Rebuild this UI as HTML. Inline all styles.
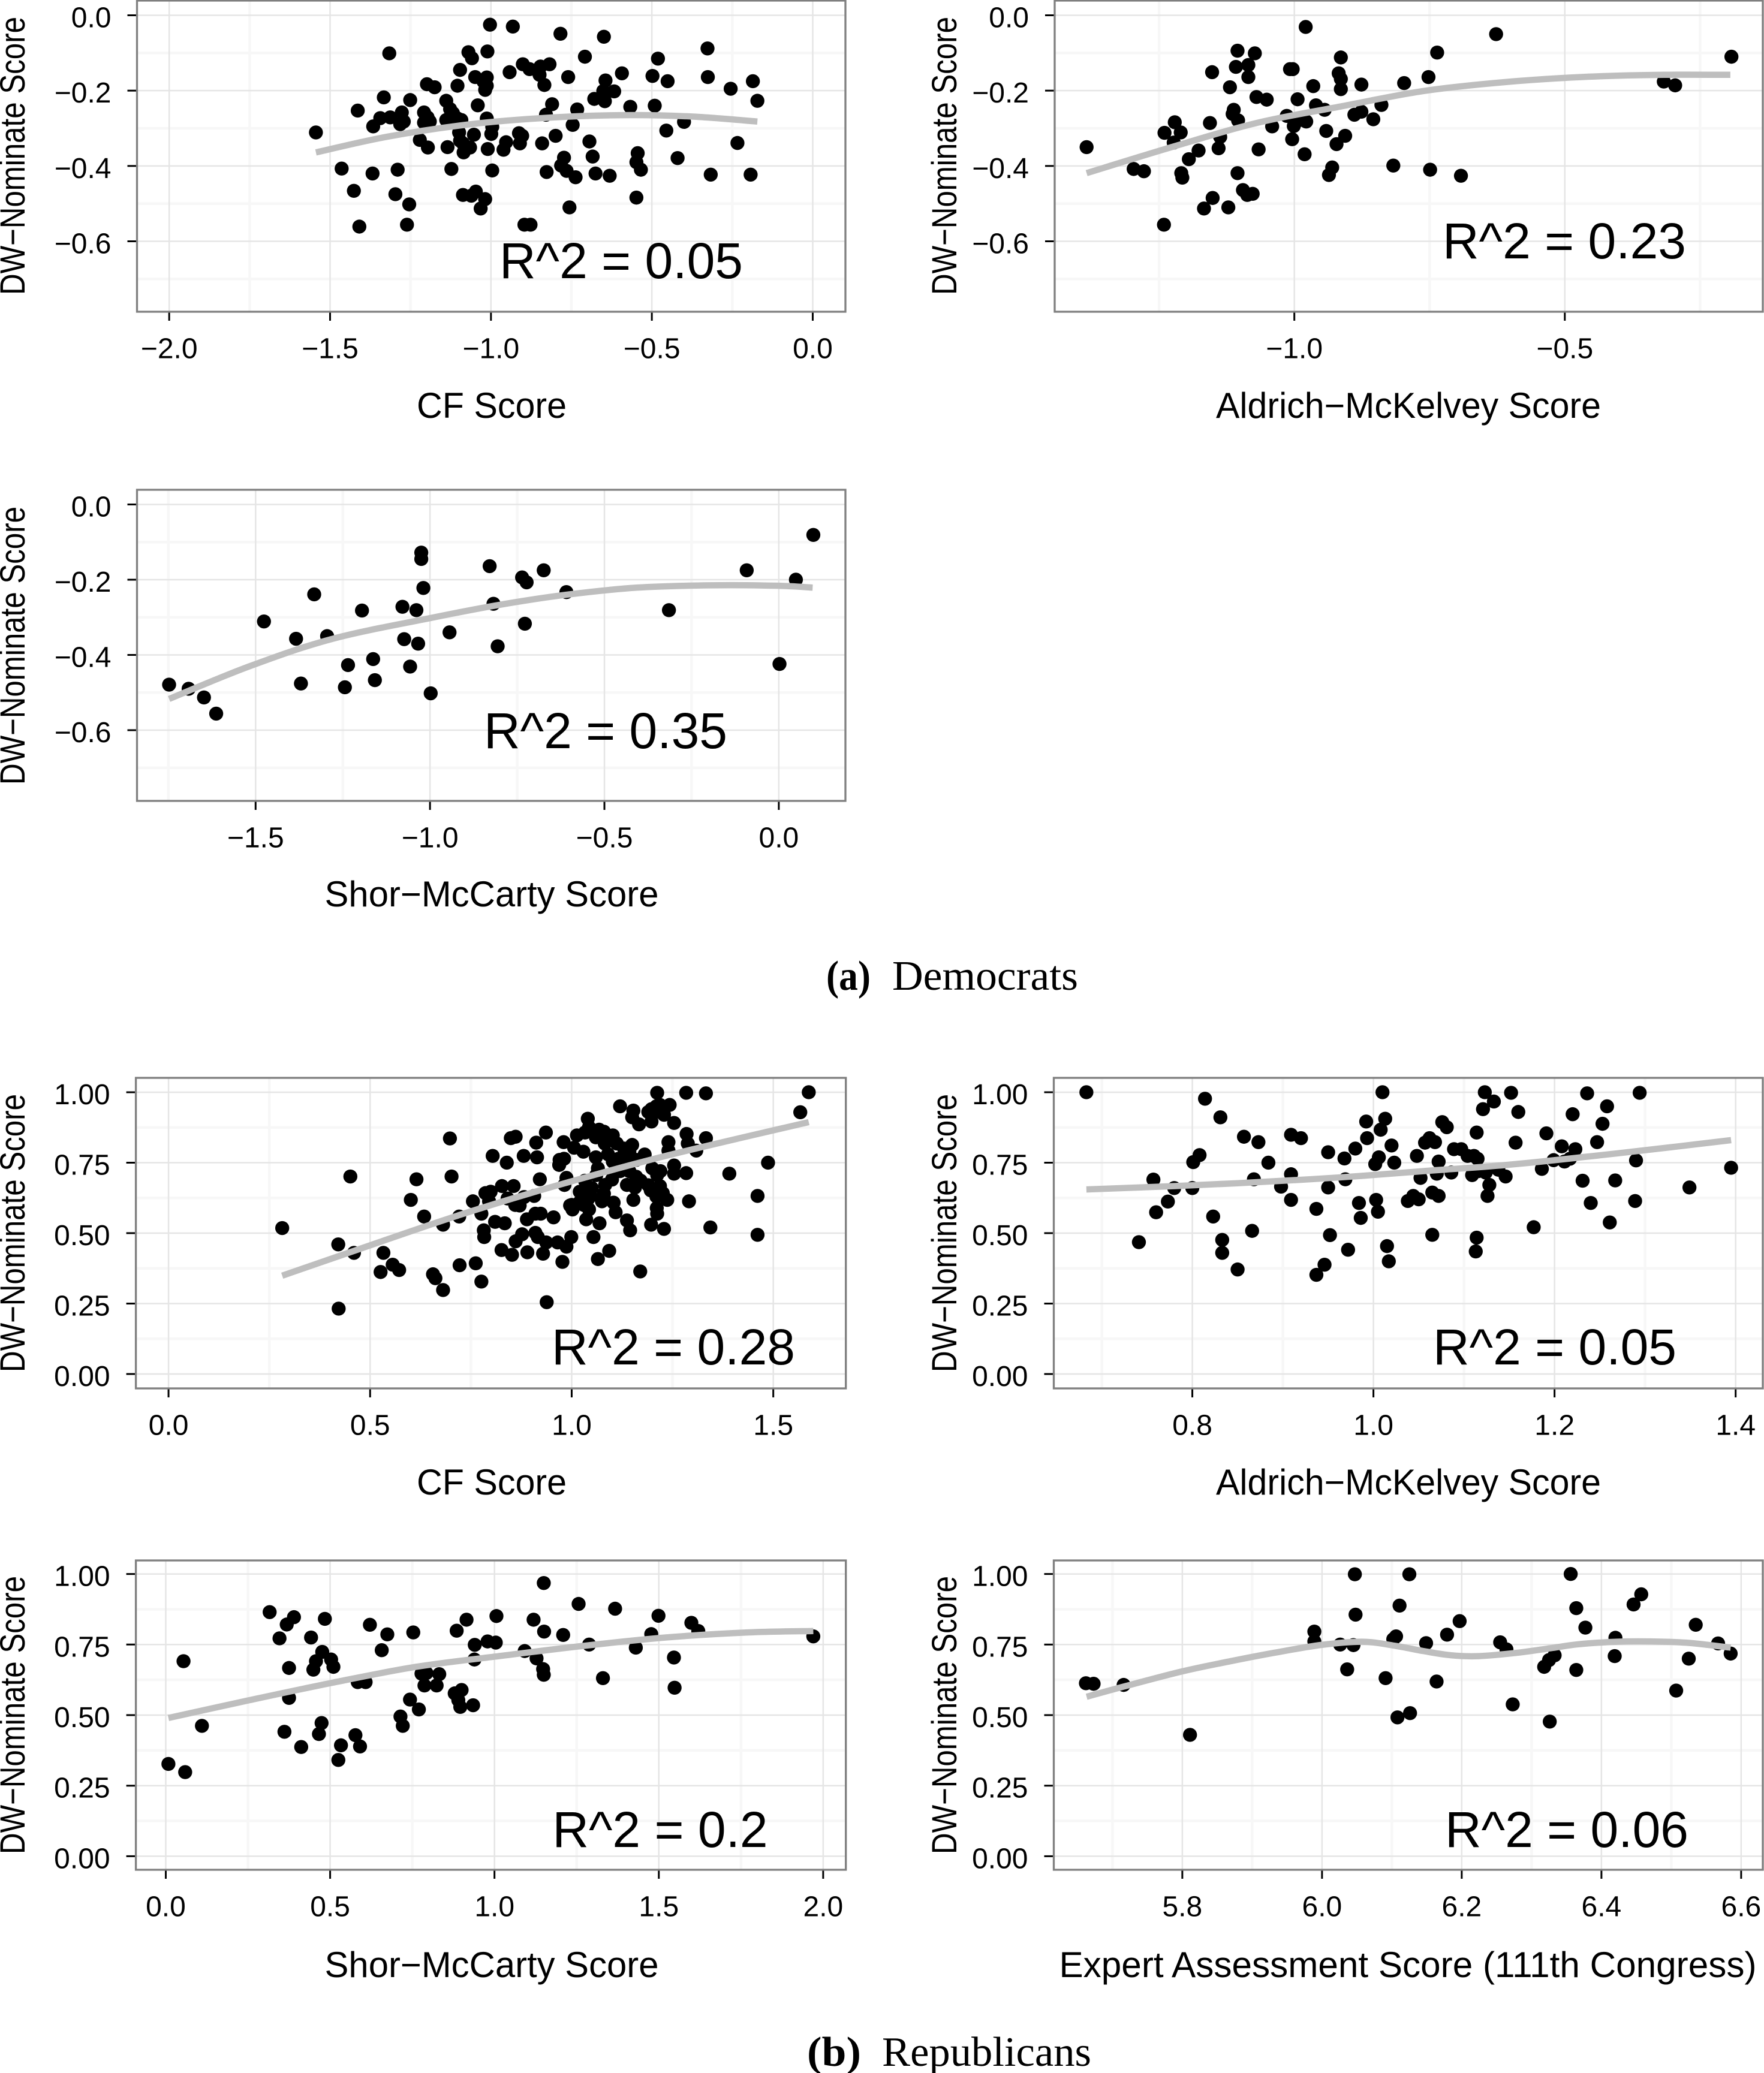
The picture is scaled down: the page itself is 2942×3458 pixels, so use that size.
<!DOCTYPE html>
<html lang="en">
<head>
<meta charset="utf-8">
<title>DW-Nominate score comparisons</title>
<style>
html,body{margin:0;padding:0;background:#fff;}
svg{display:block;}
text{font-family:"Liberation Sans",sans-serif;fill:#000;}
.axis-title{font-size:60px;}
.y-title{font-size:58px;}
.r2{font-size:84px;}
.tick{font-size:48px;}
.cap{font-family:"Liberation Serif",serif;font-size:70px;}
</style>
</head>
<body>
<svg xmlns="http://www.w3.org/2000/svg" width="2942" height="3458" viewBox="0 0 2942 3458">
<rect x="0" y="0" width="2942" height="3458" fill="#fff"/>

<g id="dem-cf">
<g class="marks"></g>
<text class="y-title" transform="translate(41,260) rotate(-90)" text-anchor="middle" textLength="464" lengthAdjust="spacingAndGlyphs">DW−Nominate Score</text>
<text class="axis-title" x="820" y="697" text-anchor="middle" textLength="250" lengthAdjust="spacingAndGlyphs">CF Score</text>
<text class="r2" x="1036" y="464" text-anchor="middle">R^2 = 0.05</text>
</g>

<g id="dem-am">
<g class="marks"></g>
<text class="y-title" transform="translate(1595,260) rotate(-90)" text-anchor="middle" textLength="464" lengthAdjust="spacingAndGlyphs">DW−Nominate Score</text>
<text class="axis-title" x="2349" y="697" text-anchor="middle" textLength="642" lengthAdjust="spacingAndGlyphs">Aldrich−McKelvey Score</text>
<text class="r2" x="2609" y="431" text-anchor="middle">R^2 = 0.23</text>
</g>

<g id="dem-sm">
<g class="marks"></g>
<text class="y-title" transform="translate(41,1077) rotate(-90)" text-anchor="middle" textLength="464" lengthAdjust="spacingAndGlyphs">DW−Nominate Score</text>
<text class="axis-title" x="820" y="1512" text-anchor="middle" textLength="557" lengthAdjust="spacingAndGlyphs">Shor−McCarty Score</text>
<text class="r2" x="1010" y="1248" text-anchor="middle">R^2 = 0.35</text>
</g>

<text class="cap" x="1378" y="1651" font-weight="bold" textLength="74" lengthAdjust="spacingAndGlyphs">(a)</text>
<text class="cap" x="1488" y="1651" textLength="310" lengthAdjust="spacingAndGlyphs">Democrats</text>

<g id="rep-cf">
<g class="marks"></g>
<text class="y-title" transform="translate(41,2057) rotate(-90)" text-anchor="middle" textLength="464" lengthAdjust="spacingAndGlyphs">DW−Nominate Score</text>
<text class="axis-title" x="820" y="2493" text-anchor="middle" textLength="250" lengthAdjust="spacingAndGlyphs">CF Score</text>
<text class="r2" x="1123" y="2276" text-anchor="middle">R^2 = 0.28</text>
</g>

<g id="rep-am">
<g class="marks"></g>
<text class="y-title" transform="translate(1595,2057) rotate(-90)" text-anchor="middle" textLength="464" lengthAdjust="spacingAndGlyphs">DW−Nominate Score</text>
<text class="axis-title" x="2349" y="2493" text-anchor="middle" textLength="642" lengthAdjust="spacingAndGlyphs">Aldrich−McKelvey Score</text>
<text class="r2" x="2593" y="2276" text-anchor="middle">R^2 = 0.05</text>
</g>

<g id="rep-sm">
<g class="marks"></g>
<text class="y-title" transform="translate(41,2861) rotate(-90)" text-anchor="middle" textLength="464" lengthAdjust="spacingAndGlyphs">DW−Nominate Score</text>
<text class="axis-title" x="820" y="3298" text-anchor="middle" textLength="557" lengthAdjust="spacingAndGlyphs">Shor−McCarty Score</text>
<text class="r2" x="1101" y="3081" text-anchor="middle">R^2 = 0.2</text>
</g>

<g id="rep-ex">
<g class="marks"></g>
<text class="y-title" transform="translate(1595,2861) rotate(-90)" text-anchor="middle" textLength="464" lengthAdjust="spacingAndGlyphs">DW−Nominate Score</text>
<text class="axis-title" x="2348" y="3298" text-anchor="middle" textLength="1163" lengthAdjust="spacingAndGlyphs">Expert Assessment Score (111th Congress)</text>
<text class="r2" x="2613" y="3081" text-anchor="middle">R^2 = 0.06</text>
</g>

<text class="cap" x="1346" y="3446" font-weight="bold" textLength="90" lengthAdjust="spacingAndGlyphs">(b)</text>
<text class="cap" x="1471" y="3446" textLength="349" lengthAdjust="spacingAndGlyphs">Republicans</text>
</svg>

<script>
const demYTicks = [0, -0.2, -0.4, -0.6];
const demYTickLabels = ["0.0", "−0.2", "−0.4", "−0.6"];
const demYMinor = [-0.1, -0.3, -0.5, -0.7];
const repYTicks = [0, 0.25, 0.5, 0.75, 1];
const repYTickLabels = ["0.00", "0.25", "0.50", "0.75", "1.00"];
const repYMinor = [0.125, 0.375, 0.625, 0.875];

const demCfXTicks = [-2, -1.5, -1, -0.5, 0];
const demCfXTickLabels = ["−2.0", "−1.5", "−1.0", "−0.5", "0.0"];
const demCfXMinor = [-1.75, -1.25, -0.75, -0.25];
const demCfPoints = [[-1.544,-0.311],[-1.464,-0.407],[-1.368,-0.420],[-1.290,-0.410],[-1.426,-0.466],[-1.297,-0.475],[-1.254,-0.502],[-1.409,-0.561],[-1.261,-0.556],[-1.414,-0.253],[-1.333,-0.218],[-1.316,-0.101],[-1.251,-0.225],[-1.366,-0.295],[-1.344,-0.273],[-1.313,-0.271],[-1.277,-0.258],[-1.282,-0.289],[-1.271,-0.282],[-1.208,-0.258],[-1.197,-0.271],[-1.208,-0.285],[-1.190,-0.282],[-1.221,-0.331],[-1.196,-0.351],[-1.199,-0.183],[-1.175,-0.191],[-1.104,-0.187],[-1.096,-0.145],[-1.070,-0.098],[-1.059,-0.114],[-1.049,-0.164],[-1.023,-0.176],[-1.013,-0.165],[-1.011,-0.096],[-1.003,-0.025],[-0.932,-0.030],[-0.784,-0.049],[-0.649,-0.057],[-0.708,-0.110],[-0.481,-0.115],[-0.327,-0.088],[-0.942,-0.151],[-0.901,-0.130],[-0.880,-0.143],[-0.849,-0.158],[-0.846,-0.136],[-0.818,-0.130],[-0.834,-0.185],[-0.760,-0.164],[-0.593,-0.154],[-0.498,-0.161],[-0.451,-0.175],[-0.326,-0.164],[-0.255,-0.195],[-0.186,-0.175],[-0.172,-0.227],[-0.644,-0.173],[-0.651,-0.201],[-0.617,-0.202],[-0.679,-0.222],[-0.646,-0.228],[-0.567,-0.243],[-0.491,-0.240],[-0.732,-0.250],[-0.810,-0.236],[-0.829,-0.264],[-0.746,-0.291],[-0.799,-0.320],[-0.841,-0.340],[-0.910,-0.340],[-0.913,-0.313],[-0.903,-0.320],[-0.953,-0.337],[-0.961,-0.357],[-1.010,-0.355],[-0.999,-0.315],[-0.996,-0.296],[-1.013,-0.274],[-1.041,-0.239],[-1.018,-0.198],[-1.013,-0.187],[-1.139,-0.227],[-1.127,-0.249],[-1.118,-0.260],[-1.139,-0.278],[-1.104,-0.274],[-1.092,-0.278],[-1.099,-0.311],[-1.096,-0.333],[-1.053,-0.317],[-1.087,-0.340],[-1.065,-0.351],[-1.085,-0.364],[-1.135,-0.350],[-0.694,-0.335],[-0.684,-0.375],[-0.773,-0.378],[-0.782,-0.399],[-0.765,-0.413],[-0.737,-0.430],[-0.827,-0.416],[-0.675,-0.420],[-0.631,-0.426],[-0.544,-0.366],[-0.548,-0.390],[-0.534,-0.410],[-0.548,-0.484],[-0.756,-0.510],[-0.455,-0.306],[-0.400,-0.283],[-0.420,-0.379],[-0.234,-0.339],[-0.317,-0.423],[-0.193,-0.423],[-1.123,-0.408],[-0.996,-0.412],[-1.087,-0.477],[-1.061,-0.479],[-1.047,-0.468],[-1.018,-0.488],[-1.032,-0.513],[-0.896,-0.556],[-0.877,-0.556]];
const demCfFit = [[-1.544,-0.364],[-1.32,-0.322],[-1.061,-0.289],[-0.803,-0.271],[-0.567,-0.265],[-0.372,-0.269],[-0.172,-0.282]];

const demAmXTicks = [-1, -0.5];
const demAmXTickLabels = ["−1.0", "−0.5"];
const demAmXMinor = [-1.25, -0.75, -0.25];
const demAmPoints = [[-1.384,-0.350],[-1.297,-0.408],[-1.278,-0.414],[-1.241,-0.556],[-1.240,-0.312],[-1.221,-0.284],[-1.223,-0.338],[-1.210,-0.311],[-1.209,-0.419],[-1.207,-0.431],[-1.195,-0.382],[-1.177,-0.359],[-1.167,-0.513],[-1.156,-0.286],[-1.151,-0.485],[-1.152,-0.151],[-1.140,-0.353],[-1.137,-0.323],[-1.122,-0.510],[-1.119,-0.191],[-1.108,-0.137],[-1.105,-0.094],[-1.085,-0.132],[-1.085,-0.164],[-1.073,-0.101],[-1.112,-0.251],[-1.114,-0.262],[-1.104,-0.279],[-1.105,-0.419],[-1.095,-0.464],[-1.087,-0.477],[-1.077,-0.474],[-1.070,-0.217],[-1.066,-0.356],[-1.051,-0.224],[-1.041,-0.295],[-1.014,-0.267],[-1.008,-0.143],[-1.003,-0.143],[-1.004,-0.329],[-1.001,-0.294],[-0.994,-0.223],[-0.981,-0.369],[-0.979,-0.031],[-0.990,-0.278],[-0.978,-0.282],[-0.965,-0.188],[-0.960,-0.239],[-0.944,-0.251],[-0.941,-0.307],[-0.930,-0.404],[-0.936,-0.424],[-0.922,-0.342],[-0.918,-0.154],[-0.914,-0.169],[-0.914,-0.196],[-0.914,-0.112],[-0.906,-0.320],[-0.889,-0.264],[-0.876,-0.256],[-0.876,-0.184],[-0.854,-0.276],[-0.839,-0.238],[-0.817,-0.399],[-0.797,-0.180],[-0.752,-0.164],[-0.749,-0.410],[-0.736,-0.099],[-0.692,-0.426],[-0.627,-0.050],[-0.317,-0.176],[-0.296,-0.186],[-0.192,-0.110]];
const demAmFit = [[-1.384,-0.419],[-1.220,-0.347],[-1.067,-0.285],[-0.914,-0.242],[-0.761,-0.201],[-0.608,-0.177],[-0.455,-0.163],[-0.317,-0.158],[-0.194,-0.158]];

const demSmXTicks = [-1.5, -1, -0.5, 0];
const demSmXTickLabels = ["−1.5", "−1.0", "−0.5", "0.0"];
const demSmXMinor = [-1.75, -1.25, -0.75, -0.25];
const demSmPoints = [[-1.748,-0.479],[-1.692,-0.490],[-1.648,-0.513],[-1.613,-0.556],[-1.476,-0.311],[-1.384,-0.357],[-1.370,-0.476],[-1.332,-0.239],[-1.295,-0.350],[-1.244,-0.486],[-1.235,-0.427],[-1.195,-0.282],[-1.163,-0.411],[-1.158,-0.467],[-1.079,-0.272],[-1.074,-0.358],[-1.057,-0.431],[-1.039,-0.281],[-1.034,-0.370],[-1.025,-0.128],[-1.025,-0.145],[-1.019,-0.222],[-0.998,-0.502],[-0.944,-0.340],[-0.829,-0.164],[-0.818,-0.264],[-0.806,-0.377],[-0.736,-0.194],[-0.723,-0.207],[-0.728,-0.317],[-0.674,-0.175],[-0.609,-0.233],[-0.315,-0.281],[-0.092,-0.175],[0.002,-0.424],[0.049,-0.200],[0.099,-0.081]];
const demSmFit = [[-1.748,-0.517],[-1.517,-0.430],[-1.279,-0.357],[-0.999,-0.302],[-0.802,-0.267],[-0.609,-0.240],[-0.405,-0.221],[-0.199,-0.215],[-0.008,-0.216],[0.097,-0.221]];

const repCfXTicks = [0, 0.5, 1, 1.5];
const repCfXTickLabels = ["0.0", "0.5", "1.0", "1.5"];
const repCfXMinor = [0.25, 0.75, 1.25];
const repCfPoints = [[0.282,0.518],[0.421,0.460],[0.422,0.232],[0.460,0.430],[0.451,0.701],[0.533,0.430],[0.526,0.362],[0.556,0.388],[0.572,0.369],[0.601,0.618],[0.615,0.691],[0.634,0.559],[0.656,0.354],[0.662,0.340],[0.681,0.298],[0.681,0.530],[0.698,0.836],[0.702,0.701],[0.721,0.559],[0.722,0.386],[0.755,0.613],[0.762,0.393],[0.776,0.328],[0.776,0.569],[0.782,0.510],[0.783,0.486],[0.786,0.642],[0.804,0.774],[0.799,0.647],[0.795,0.613],[0.810,0.540],[0.826,0.440],[0.827,0.667],[0.834,0.535],[0.839,0.750],[0.841,0.623],[0.849,0.837],[0.856,0.667],[0.861,0.842],[0.881,0.774],[0.882,0.628],[0.871,0.598],[0.852,0.423],[0.861,0.471],[0.877,0.496],[0.889,0.549],[0.890,0.432],[0.910,0.501],[0.914,0.769],[0.912,0.821],[0.907,0.632],[0.921,0.691],[0.910,0.569],[0.923,0.569],[0.929,0.427],[0.916,0.486],[0.937,0.467],[0.936,0.857],[0.938,0.255],[0.955,0.556],[0.965,0.467],[0.980,0.823],[0.969,0.742],[0.981,0.764],[0.977,0.398],[0.987,0.452],[0.996,0.598],[0.999,0.486],[0.982,0.671],[0.987,0.696],[1.002,0.584],[1.006,0.803],[1.013,0.847],[1.029,0.789],[1.033,0.857],[1.040,0.906],[1.043,0.876],[1.036,0.549],[1.043,0.584],[1.054,0.486],[1.060,0.769],[1.065,0.730],[1.068,0.867],[1.075,0.837],[1.083,0.671],[1.082,0.818],[1.065,0.408],[1.069,0.535],[1.093,0.437],[1.102,0.847],[1.112,0.818],[1.104,0.608],[1.075,0.613],[1.047,0.632],[1.020,0.647],[1.033,0.686],[1.061,0.706],[1.102,0.754],[1.116,0.764],[1.130,0.769],[1.109,0.740],[1.120,0.950],[1.153,0.935],[1.150,0.813],[1.150,0.911],[1.167,0.886],[1.143,0.789],[1.137,0.671],[1.143,0.720],[1.153,0.618],[1.157,0.662],[1.171,0.686],[1.181,0.779],[1.109,0.574],[1.137,0.545],[1.145,0.510],[1.170,0.364],[1.197,0.530],[1.196,0.652],[1.229,0.515],[1.211,0.589],[1.212,0.569],[1.198,0.940],[1.198,0.896],[1.212,0.998],[1.219,0.955],[1.229,0.920],[1.243,0.955],[1.254,0.891],[1.284,0.998],[1.333,0.996],[1.212,0.706],[1.219,0.667],[1.226,0.642],[1.237,0.618],[1.240,0.823],[1.240,0.793],[1.254,0.740],[1.254,0.711],[1.285,0.852],[1.288,0.818],[1.284,0.713],[1.291,0.613],[1.309,0.793],[1.333,0.837],[1.344,0.520],[1.391,0.711],[1.461,0.632],[1.461,0.494],[1.487,0.750],[1.567,0.929],[1.588,1.000],[1.08,0.86],[1.10,0.83],[1.13,0.80],[1.16,0.76],[1.09,0.78],[1.05,0.66],[1.08,0.64],[1.04,0.62],[1.10,0.69],[1.12,0.72],[1.14,0.75],[1.06,0.84],[1.19,0.93],[1.21,0.95],[1.22,0.93],[1.02,0.61],[1.03,0.60],[1.20,0.73],[1.22,0.72],[0.97,0.76],[1.16,0.70],[1.19,0.67],[1.21,0.63],[1.00,0.60],[0.86,0.60]];
const repCfFit = [[0.282,0.349],[0.460,0.437],[0.721,0.564],[0.958,0.667],[1.233,0.774],[1.588,0.894]];

const repAmXTicks = [0.8, 1, 1.2, 1.4];
const repAmXTickLabels = ["0.8", "1.0", "1.2", "1.4"];
const repAmXMinor = [0.7, 0.9, 1.1, 1.3];
const repAmPoints = [[0.683,1.000],[0.741,0.468],[0.757,0.690],[0.760,0.574],[0.773,0.612],[0.780,0.660],[0.800,0.660],[0.801,0.752],[0.808,0.777],[0.814,0.977],[0.823,0.559],[0.831,0.911],[0.833,0.476],[0.833,0.430],[0.850,0.371],[0.857,0.842],[0.866,0.508],[0.868,0.691],[0.873,0.823],[0.884,0.750],[0.898,0.665],[0.909,0.849],[0.909,0.709],[0.909,0.618],[0.920,0.837],[0.937,0.586],[0.946,0.388],[0.937,0.352],[0.950,0.787],[0.950,0.662],[0.952,0.493],[0.968,0.765],[0.969,0.691],[0.972,0.441],[0.980,0.800],[0.984,0.607],[0.986,0.554],[0.992,0.896],[0.993,0.837],[1.002,0.745],[1.003,0.618],[1.005,0.576],[1.006,0.769],[1.008,0.867],[1.010,1.000],[1.013,0.906],[1.015,0.454],[1.017,0.400],[1.020,0.811],[1.023,0.750],[1.038,0.614],[1.044,0.632],[1.050,0.620],[1.048,0.774],[1.052,0.696],[1.057,0.821],[1.062,0.837],[1.065,0.494],[1.065,0.644],[1.068,0.823],[1.072,0.632],[1.070,0.711],[1.072,0.754],[1.076,0.894],[1.081,0.876],[1.086,0.715],[1.089,0.798],[1.097,0.798],[1.104,0.774],[1.109,0.706],[1.111,0.774],[1.114,0.857],[1.114,0.484],[1.113,0.435],[1.115,0.764],[1.116,0.720],[1.123,1.000],[1.121,0.940],[1.133,0.967],[1.124,0.715],[1.126,0.632],[1.128,0.671],[1.138,0.725],[1.146,0.701],[1.152,0.998],[1.157,0.821],[1.160,0.930],[1.177,0.521],[1.186,0.728],[1.191,0.854],[1.199,0.759],[1.208,0.808],[1.211,0.754],[1.217,0.764],[1.223,0.798],[1.220,0.922],[1.231,0.686],[1.236,0.996],[1.240,0.607],[1.247,0.823],[1.253,0.888],[1.258,0.950],[1.261,0.538],[1.267,0.687],[1.289,0.614],[1.290,0.758],[1.294,0.998],[1.349,0.662],[1.395,0.732]];
const repAmFit = [[0.683,0.655],[0.781,0.667],[0.873,0.681],[0.964,0.698],[1.055,0.720],[1.147,0.742],[1.238,0.772],[1.329,0.805],[1.395,0.830]];

const repSmXTicks = [0, 0.5, 1, 1.5, 2];
const repSmXTickLabels = ["0.0", "0.5", "1.0", "1.5", "2.0"];
const repSmXMinor = [0.25, 0.75, 1.25, 1.75];
const repSmPoints = [[0.008,0.327],[0.059,0.298],[0.054,0.691],[0.110,0.462],[0.316,0.865],[0.346,0.772],[0.361,0.441],[0.368,0.821],[0.375,0.667],[0.375,0.561],[0.390,0.847],[0.412,0.387],[0.442,0.775],[0.449,0.661],[0.457,0.691],[0.466,0.433],[0.474,0.472],[0.476,0.724],[0.484,0.841],[0.503,0.697],[0.510,0.671],[0.525,0.341],[0.533,0.393],[0.577,0.429],[0.584,0.617],[0.591,0.389],[0.608,0.617],[0.621,0.820],[0.657,0.730],[0.674,0.786],[0.714,0.495],[0.721,0.462],[0.743,0.555],[0.753,0.793],[0.770,0.520],[0.778,0.647],[0.787,0.605],[0.793,0.649],[0.824,0.605],[0.832,0.645],[0.879,0.577],[0.885,0.799],[0.890,0.553],[0.896,0.529],[0.900,0.589],[0.915,0.838],[0.935,0.535],[0.940,0.749],[0.939,0.697],[0.979,0.761],[1.004,0.757],[1.006,0.851],[1.092,0.727],[1.119,0.838],[1.128,0.701],[1.148,0.663],[1.150,0.643],[1.151,0.796],[1.150,0.968],[1.209,0.784],[1.256,0.894],[1.288,0.750],[1.330,0.631],[1.367,0.877],[1.430,0.739],[1.477,0.787],[1.499,0.852],[1.546,0.704],[1.548,0.597],[1.599,0.827],[1.620,0.798],[1.970,0.779]];
const repSmFit = [[0.008,0.490],[0.255,0.553],[0.508,0.615],[0.761,0.671],[1.014,0.709],[1.268,0.745],[1.521,0.775],[1.774,0.793],[1.970,0.798]];

const repExXTicks = [5.8, 6, 6.2, 6.4, 6.6];
const repExXTickLabels = ["5.8", "6.0", "6.2", "6.4", "6.6"];
const repExXMinor = [5.7, 5.9, 6.1, 6.3, 6.5];
const repExPoints = [[5.662,0.613],[5.673,0.611],[5.716,0.607],[5.811,0.430],[5.989,0.796],[5.989,0.761],[6.026,0.750],[6.036,0.662],[6.045,0.748],[6.047,0.999],[6.048,0.856],[6.091,0.631],[6.102,0.769],[6.106,0.779],[6.108,0.492],[6.111,0.888],[6.125,0.999],[6.126,0.507],[6.149,0.755],[6.164,0.619],[6.179,0.785],[6.197,0.833],[6.255,0.758],[6.264,0.733],[6.273,0.538],[6.318,0.671],[6.325,0.695],[6.326,0.477],[6.333,0.712],[6.356,1.000],[6.364,0.879],[6.364,0.660],[6.377,0.810],[6.419,0.709],[6.420,0.774],[6.446,0.892],[6.457,0.928],[6.507,0.587],[6.525,0.700],[6.535,0.820],[6.567,0.754],[6.585,0.718]];
const repExFit = [[5.663,0.565],[5.716,0.601],[5.800,0.655],[5.869,0.691],[5.932,0.721],[6.0,0.749],[6.058,0.760],[6.106,0.745],[6.145,0.727],[6.185,0.712],[6.224,0.709],[6.280,0.721],[6.327,0.737],[6.367,0.751],[6.422,0.760],[6.469,0.761],[6.525,0.756],[6.585,0.739]];

const SVG_NS = 'http://www.w3.org/2000/svg';
function mk(tag) { return document.createElementNS(SVG_NS, tag); }
function setAll(el, props) { for (const k in props) el.setAttribute(k, props[k]); return el; }

function linearScale(domain, range) {
  return function (v) { return range[0] + (v - domain[0]) * (range[1] - range[0]) / (domain[1] - domain[0]); };
}

function smoothPath(pts) {
  let d = 'M' + pts[0][0].toFixed(2) + ' ' + pts[0][1].toFixed(2);
  for (let i = 0; i < pts.length - 1; i++) {
    const p0 = pts[Math.max(i - 1, 0)], p1 = pts[i], p2 = pts[i + 1], p3 = pts[Math.min(i + 2, pts.length - 1)];
    const c1x = p1[0] + (p2[0] - p0[0]) / 6, c1y = p1[1] + (p2[1] - p0[1]) / 6;
    const c2x = p2[0] - (p3[0] - p1[0]) / 6, c2y = p2[1] - (p3[1] - p1[1]) / 6;
    d += 'C' + c1x.toFixed(2) + ' ' + c1y.toFixed(2) + ' ' + c2x.toFixed(2) + ' ' + c2y.toFixed(2) + ' ' + p2[0].toFixed(2) + ' ' + p2[1].toFixed(2);
  }
  return d;
}

function drawPanel(cfg) {
  const g = document.querySelector('#' + cfg.id + ' .marks');
  const L = cfg.frame[0], T = cfg.frame[1], R = cfg.frame[2], B = cfg.frame[3];
  const x = linearScale(cfg.xDomain, [L, R]);
  const y = linearScale(cfg.yDomain, [B, T]);

  cfg.yMinor.forEach(function (v) {
    const ln = mk('line');
    
    
    setAll(ln, {x1: L, x2: R, y1: y(v), y2: y(v), stroke: '#f7f7f7', 'stroke-width': 4.5});
    g.appendChild(ln);
  });
  cfg.xMinor.forEach(function (v) {
    const ln = mk('line');
    
    
    setAll(ln, {x1: x(v), x2: x(v), y1: T, y2: B, stroke: '#f7f7f7', 'stroke-width': 4.5});
    g.appendChild(ln);
  });
  cfg.yTicks.forEach(function (v, i) {
    const ln = mk('line');
    
    
    setAll(ln, {x1: L, x2: R, y1: y(v), y2: y(v), stroke: '#e5e5e5', 'stroke-width': 2.5});
    g.appendChild(ln);
    const tk = mk('line');
    
    
    setAll(tk, {x1: L - 16, x2: L, y1: y(v), y2: y(v), stroke: '#000', 'stroke-width': 3});
    g.appendChild(tk);
    const lb = mk('text');
    
    
    setAll(lb, {x: L - 43, y: y(v) + 20, 'text-anchor': 'end', 'class': 'tick'});
    lb.textContent = cfg.yLabels[i];
    g.appendChild(lb);
  });
  cfg.xTicks.forEach(function (v, i) {
    const ln = mk('line');
    
    
    setAll(ln, {x1: x(v), x2: x(v), y1: T, y2: B, stroke: '#e5e5e5', 'stroke-width': 2.5});
    g.appendChild(ln);
    const tk = mk('line');
    
    
    setAll(tk, {x1: x(v), x2: x(v), y1: B, y2: B + 15, stroke: '#000', 'stroke-width': 3});
    g.appendChild(tk);
    const lb = mk('text');
    
    
    setAll(lb, {x: x(v), y: B + 77.5, 'text-anchor': 'middle', 'class': 'tick'});
    lb.textContent = cfg.xLabels[i];
    g.appendChild(lb);
  });
  cfg.points.forEach(function (p) {
    const dot = mk('circle');
    
    
    setAll(dot, {cx: x(p[0]), cy: y(p[1]), r: 11.7, fill: '#000'});
    g.appendChild(dot);
  });
  const fit = mk('path');
  
  
  setAll(fit, {d: smoothPath(cfg.fit.map(function (p) { return [x(p[0]), y(p[1])]; })), fill: 'none', stroke: '#bebebe', 'stroke-width': 10.5});
  g.appendChild(fit);
  const frame = mk('rect');
  
  
  setAll(frame, {x: L, y: T, width: R - L, height: B - T, fill: 'none', stroke: '#7f7f7f', 'stroke-width': 3.3});
  g.appendChild(frame);
}

drawPanel({id: 'dem-cf', frame: [228.5, 1, 1410, 520], xDomain: [-2.1, 0.1016], yDomain: [-0.787, 0.039], xTicks: demCfXTicks, xLabels: demCfXTickLabels, xMinor: demCfXMinor, yTicks: demYTicks, yLabels: demYTickLabels, yMinor: demYMinor, points: demCfPoints, fit: demCfFit});
drawPanel({id: 'dem-am', frame: [1759, 1, 2940, 520], xDomain: [-1.443, -0.134], yDomain: [-0.787, 0.039], xTicks: demAmXTicks, xLabels: demAmXTickLabels, xMinor: demAmXMinor, yTicks: demYTicks, yLabels: demYTickLabels, yMinor: demYMinor, points: demAmPoints, fit: demAmFit});
drawPanel({id: 'dem-sm', frame: [228.5, 817, 1410, 1336], xDomain: [-1.84, 0.191], yDomain: [-0.788, 0.039], xTicks: demSmXTicks, xLabels: demSmXTickLabels, xMinor: demSmXMinor, yTicks: demYTicks, yLabels: demYTickLabels, yMinor: demYMinor, points: demSmPoints, fit: demSmFit});
drawPanel({id: 'rep-cf', frame: [226.6, 1798, 1410.7, 2316], xDomain: [-0.081, 1.68], yDomain: [-0.051, 1.051], xTicks: repCfXTicks, xLabels: repCfXTickLabels, xMinor: repCfXMinor, yTicks: repYTicks, yLabels: repYTickLabels, yMinor: repYMinor, points: repCfPoints, fit: repCfFit});
drawPanel({id: 'rep-am', frame: [1757.5, 1798, 2940, 2316], xDomain: [0.647, 1.43], yDomain: [-0.051, 1.051], xTicks: repAmXTicks, xLabels: repAmXTickLabels, xMinor: repAmXMinor, yTicks: repYTicks, yLabels: repYTickLabels, yMinor: repYMinor, points: repAmPoints, fit: repAmFit});
drawPanel({id: 'rep-sm', frame: [226.6, 2603, 1410.7, 3119], xDomain: [-0.091, 2.069], yDomain: [-0.048, 1.048], xTicks: repSmXTicks, xLabels: repSmXTickLabels, xMinor: repSmXMinor, yTicks: repYTicks, yLabels: repYTickLabels, yMinor: repYMinor, points: repSmPoints, fit: repSmFit});
drawPanel({id: 'rep-ex', frame: [1757.5, 2603, 2940, 3119], xDomain: [5.616, 6.631], yDomain: [-0.048, 1.048], xTicks: repExXTicks, xLabels: repExXTickLabels, xMinor: repExXMinor, yTicks: repYTicks, yLabels: repYTickLabels, yMinor: repYMinor, points: repExPoints, fit: repExFit});
</script>
</body>
</html>
